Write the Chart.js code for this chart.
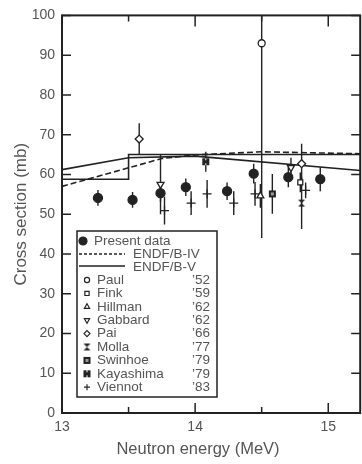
<!DOCTYPE html>
<html>
<head>
<meta charset="utf-8">
<script src="https://cdn.jsdelivr.net/npm/chart.js@4/dist/chart.umd.min.js"></script>
<style>
  html, body { margin: 0; padding: 0; background: #fff; overflow: hidden; width: 362px; height: 464px; }
  #wrap { width: 366px; height: 464px; }
</style>
</head>
<body>
<div id="wrap"><canvas id="c" width="366" height="464"></canvas></div>
<script>
// Neutron energy (MeV), cross section (mb) and uncertainty (mb)
const presentE   = [13.27, 13.53, 13.74, 13.93, 14.24, 14.44, 14.70, 14.94];
const presentCS  = [54.1, 53.6, 55.3, 56.8, 55.8, 60.2, 59.3, 58.8];
const presentErr = [2.0, 2.0, 2.2, 2.2, 2.2, 2.5, 2.5, 3.0];

const paulE = [14.50], paulCS = [93.0], paulErr = [49];
const finkE = [14.79], finkCS = [58.0], finkErr = [2.5];
const hillmanE = [14.49], hillmanCS = [54.6], hillmanErr = [3];
const gabbardE = [13.74, 14.72], gabbardCS = [57.5, 61.7], gabbardErr = [7.5, 2.5];
const paiE = [13.58, 14.80], paiCS = [68.9, 62.7], paiErr = [4, 5];
const mollaE = [14.80], mollaCS = [52.8], mollaErr = [6.5];
const swinhoeE = [14.58], swinhoeCS = [55.1], swinhoeErr = [5];
const kayashimaE = [14.08], kayashimaCS = [63.2], kayashimaErr = [2.5];
const viennotE   = [13.77, 13.97, 14.09, 14.29, 14.45, 14.83];
const viennotCS  = [50.9, 52.8, 55.1, 52.8, 55.1, 56.0];
const viennotErr = [3.5, 3.0, 3.5, 3.0, 3.0, 2.0];

// Evaluated cross sections
const endf4E = [13.0, 13.75, 14.0, 14.5, 15.24];
const endf4CS = [57.0, 64.0, 64.9, 65.7, 65.2];
const endf5E = [13.0, 13.5, 14.0, 15.24];
const endf5CS = [61.2, 64.2, 64.6, 61.0];
const endf5StepE = [13.0, 13.5, 13.5, 15.24];
const endf5StepCS = [58.8, 58.8, 65.0, 65.0];

// Axis ticks
const xTickValues = [13, 14, 15];
const xMinorValues = [13.5, 14.5];
const yTickValues = [0, 10, 20, 30, 40, 50, 60, 70, 80, 90, 100];

const INK = '#222';
const TEXT = '#555';
const FONT = "'Liberation Sans', Arial, sans-serif";

const pts = (xs, ys) => xs.map((x, i) => ({ x, y: ys[i] }));

function makeMarker(size, draw) {
  const c = document.createElement('canvas');
  c.width = c.height = size;
  draw(c.getContext('2d'), size);
  return c;
}
const hourglass = makeMarker(9, (g, s) => {
  g.fillStyle = INK;
  g.beginPath();
  g.moveTo(1, 1); g.lineTo(s - 1, 1); g.lineTo(1, s - 1); g.lineTo(s - 1, s - 1);
  g.closePath(); g.fill();
});
const swinhoeMark = makeMarker(9, (g, s) => {
  g.fillStyle = INK; g.fillRect(1, 1, s - 2, s - 2);
  g.fillStyle = '#999'; g.fillRect(3, 3, s - 6, s - 6);
});
const kayashimaMark = makeMarker(9, (g, s) => {
  g.fillStyle = INK; g.fillRect(1, 1, s - 2, s - 2);
  g.fillStyle = '#fff'; g.fillRect(4, 1, 1, 2); g.fillRect(4, s - 3, 1, 2);
});

function markerSet(label, xs, ys, errs, style, extra) {
  return Object.assign({
    label, data: pts(xs, ys), errors: errs,
    pointStyle: style, pointRadius: 3.5, pointBorderWidth: 1.3,
    pointBorderColor: INK, pointBackgroundColor: '#fff',
    showLine: false
  }, extra || {});
}

function lineSet(label, xs, ys, dash) {
  return {
    label, data: pts(xs, ys), showLine: true, pointRadius: 0,
    borderColor: INK, borderWidth: 1.6, borderDash: dash, fill: false, tension: 0
  };
}

const datasets = [
  markerSet('Present data', presentE, presentCS, presentErr, 'circle', { pointRadius: 4.5, pointBackgroundColor: INK }),
  markerSet('Paul', paulE, paulCS, paulErr, 'circle'),
  markerSet('Fink', finkE, finkCS, finkErr, 'rect'),
  markerSet('Hillman', hillmanE, hillmanCS, hillmanErr, 'triangle', { pointRadius: 4 }),
  markerSet('Gabbard', gabbardE, gabbardCS, gabbardErr, 'triangle', { pointRadius: 4, pointRotation: 180 }),
  markerSet('Pai', paiE, paiCS, paiErr, 'rectRot', { pointRadius: 4 }),
  markerSet('Molla', mollaE, mollaCS, mollaErr, hourglass),
  markerSet('Swinhoe', swinhoeE, swinhoeCS, swinhoeErr, swinhoeMark),
  markerSet('Kayashima', kayashimaE, kayashimaCS, kayashimaErr, kayashimaMark),
  markerSet('Viennot', viennotE, viennotCS, viennotErr, 'cross', { pointRadius: 4.5 }),
  lineSet('ENDF/B-IV', endf4E, endf4CS, [6, 3]),
  lineSet('ENDF/B-V', endf5E, endf5CS, []),
  lineSet('ENDF/B-V step', endf5StepE, endf5StepCS, [])
];

// Vertical uncertainty bars, drawn under the markers
const errorBars = {
  id: 'errorBars',
  beforeDatasetsDraw(chart) {
    const { ctx, chartArea: a, scales: { x, y } } = chart;
    ctx.save();
    ctx.beginPath(); ctx.rect(a.left, a.top, a.right - a.left, a.bottom - a.top); ctx.clip();
    ctx.strokeStyle = INK; ctx.lineWidth = 1.4;
    chart.data.datasets.forEach(ds => {
      if (!ds.errors) return;
      ds.data.forEach((p, i) => {
        const px = x.getPixelForValue(p.x);
        ctx.beginPath();
        ctx.moveTo(px, y.getPixelForValue(p.y + ds.errors[i]));
        ctx.lineTo(px, y.getPixelForValue(p.y - ds.errors[i]));
        ctx.stroke();
      });
    });
    ctx.restore();
  }
};

// Boxed frame with inward tick marks on all four sides, plus the energy axis title
const frame = {
  id: 'frame',
  afterDatasetsDraw(chart) {
    const { ctx, chartArea: a, scales: { x, y } } = chart;
    ctx.save();
    ctx.strokeStyle = INK; ctx.lineWidth = 2;
    ctx.strokeRect(a.left, a.top, a.right - a.left, a.bottom - a.top);
    ctx.lineWidth = 1.5;
    ctx.beginPath();
    yTickValues.forEach(v => {
      const py = y.getPixelForValue(v);
      ctx.moveTo(a.left, py); ctx.lineTo(a.left + 9, py);
      ctx.moveTo(a.right, py); ctx.lineTo(a.right - 9, py);
    });
    xTickValues.forEach(v => {
      const px = x.getPixelForValue(v);
      ctx.moveTo(px, a.bottom); ctx.lineTo(px, a.bottom - 10);
      ctx.moveTo(px, a.top); ctx.lineTo(px, a.top + 11);
    });
    xMinorValues.forEach(v => {
      const px = x.getPixelForValue(v);
      ctx.moveTo(px, a.bottom); ctx.lineTo(px, a.bottom - 6);
      ctx.moveTo(px, a.top); ctx.lineTo(px, a.top + 6);
    });
    ctx.stroke();

    ctx.fillStyle = TEXT;
    ctx.font = '16.5px ' + FONT;
    ctx.textAlign = 'center';
    ctx.textBaseline = 'middle';
    ctx.fillText('Neutron energy (MeV)', 198, 449);
    ctx.restore();
  }
};

// Key box inside the plot
const keyRows = [
  { name: 'Paul', year: '\u201952', set: 1 },
  { name: 'Fink', year: '\u201959', set: 2 },
  { name: 'Hillman', year: '\u201962', set: 3 },
  { name: 'Gabbard', year: '\u201962', set: 4 },
  { name: 'Pai', year: '\u201966', set: 5 },
  { name: 'Molla', year: '\u201977', set: 6 },
  { name: 'Swinhoe', year: '\u201979', set: 7 },
  { name: 'Kayashima', year: '\u201979', set: 8 },
  { name: 'Viennot', year: '\u201983', set: 9 }
];

function drawMark(ctx, ds, px, py, r) {
  ctx.save();
  ctx.strokeStyle = INK; ctx.fillStyle = ds.pointBackgroundColor; ctx.lineWidth = 1.2;
  Chart.helpers.drawPoint(ctx, {
    pointStyle: ds.pointStyle, rotation: ds.pointRotation || 0, radius: r, borderWidth: 1.2
  }, px, py);
  ctx.restore();
}

const key = {
  id: 'key',
  afterDraw(chart) {
    const ctx = chart.ctx;
    const sets = chart.data.datasets;
    ctx.save();
    ctx.strokeStyle = INK; ctx.lineWidth = 1.5;
    ctx.fillStyle = '#fff';
    ctx.fillRect(77, 231, 140, 166);
    ctx.strokeRect(77, 231, 140, 166);

    ctx.font = '13.5px ' + FONT;
    ctx.textBaseline = 'middle';

    drawMark(ctx, sets[0], 83, 241, 4);
    ctx.fillStyle = TEXT; ctx.textAlign = 'left';
    ctx.fillText('Present data', 94, 241);

    ctx.strokeStyle = INK; ctx.lineWidth = 1.5;
    ctx.setLineDash([3, 2]);
    ctx.beginPath(); ctx.moveTo(79, 254); ctx.lineTo(125, 254); ctx.stroke();
    ctx.setLineDash([]);
    ctx.beginPath(); ctx.moveTo(79, 266); ctx.lineTo(125, 266); ctx.stroke();
    ctx.fillText('ENDF/B-IV', 133, 254);
    ctx.fillText('ENDF/B-V', 133, 267);

    keyRows.forEach((row, i) => {
      const py = 280 + i * 13.4;
      const ds = sets[row.set];
      const r = row.set === 1 ? 2.6 : 3;
      drawMark(ctx, ds, 87, py, r);
      ctx.fillStyle = TEXT;
      ctx.textAlign = 'left';
      ctx.fillText(row.name, 97, py);
      ctx.textAlign = 'right';
      ctx.fillText(row.year, 210, py);
    });
    ctx.restore();
  }
};

new Chart(document.getElementById('c'), {
  type: 'scatter',
  data: { datasets },
  options: {
    responsive: false,
    devicePixelRatio: 1,
    animation: false,
    events: [],
    layout: { padding: { top: 11, right: 2, bottom: 0, left: 0 } },
    plugins: { legend: { display: false }, tooltip: { enabled: false } },
    scales: {
      x: {
        type: 'linear', position: 'bottom', min: 13, max: 15.24,
        grid: { display: false, drawTicks: false },
        border: { display: false },
        afterBuildTicks: s => { s.ticks = xTickValues.map(v => ({ value: v })); },
        afterFit: s => { s.height = 51; },
        ticks: { color: TEXT, font: { family: FONT, size: 14 }, padding: 6, maxRotation: 0, autoSkip: false },
        title: { display: false }
      },
      y: {
        type: 'linear', position: 'left', min: 0, max: 100,
        grid: { display: false, drawTicks: false },
        border: { display: false },
        afterBuildTicks: s => { s.ticks = yTickValues.map(v => ({ value: v })); },
        afterFit: s => { s.width = 62; },
        ticks: { color: TEXT, font: { family: FONT, size: 14 }, padding: 7, autoSkip: false },
        title: { display: true, text: 'Cross section (mb)', color: TEXT, font: { family: FONT, size: 17 }, padding: { top: 11, bottom: 0 } }
      }
    }
  },
  plugins: [errorBars, frame, key]
});
</script>
</body>
</html>
